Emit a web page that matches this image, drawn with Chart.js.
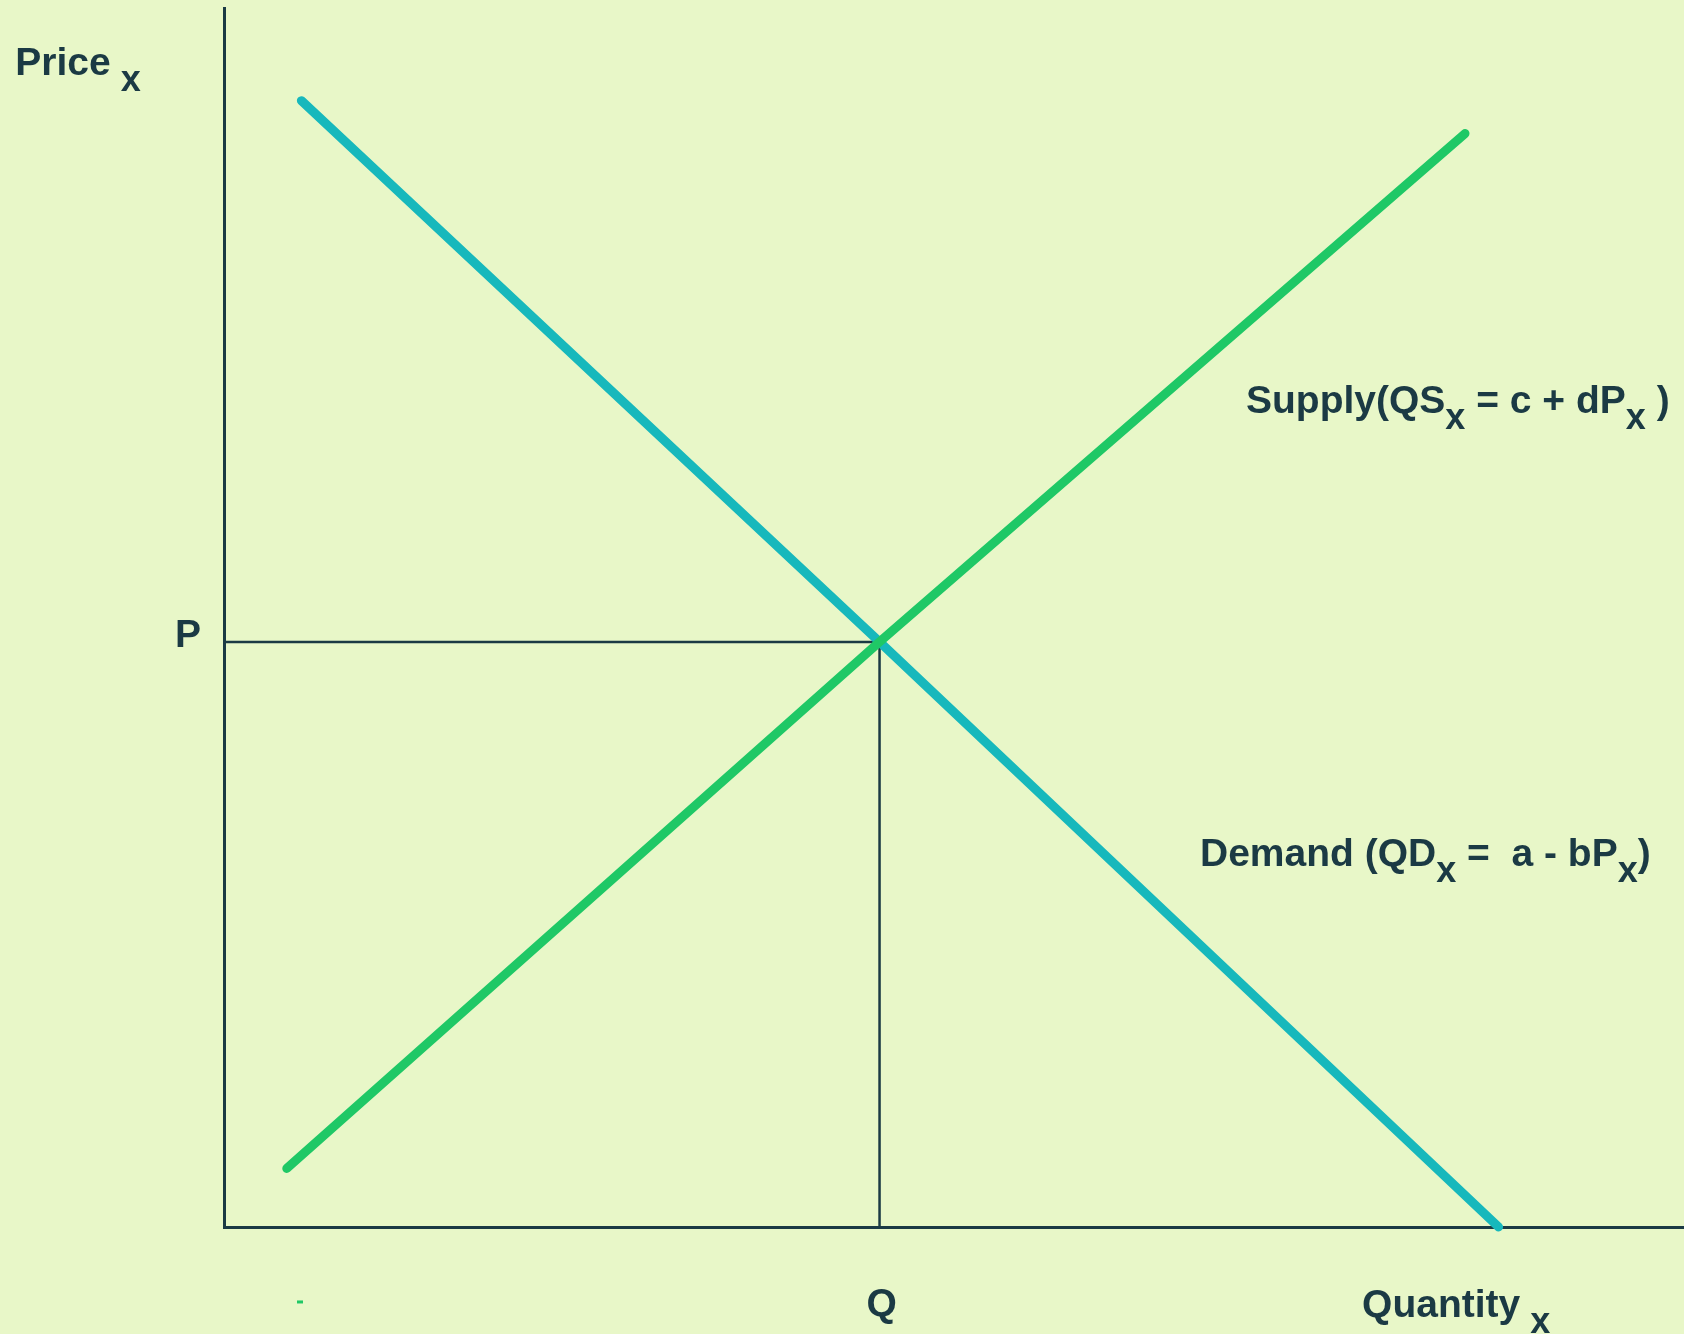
<!DOCTYPE html>
<html>
<head>
<meta charset="utf-8">
<script src="https://cdn.jsdelivr.net/npm/chart.js@4.4.0/dist/chart.umd.min.js"></script>
<style>
  html, body { margin: 0; padding: 0; background: #e8f7c8; }
  #wrap { width: 1684px; height: 1334px; position: relative; }
</style>
</head>
<body>
<div id="wrap"><canvas id="chart"></canvas></div>
<script>
"use strict";

// 需要曲線（数量, 価格）
const demandQty = [5.3, 44.9, 87.3];
const demandPrice = [92.4, 48.0, 0];
// 供給曲線（数量, 価格）
const supplyQty = [4.3, 44.9, 85.0];
const supplyPrice = [4.8, 48.0, 89.7];
// 均衡点
const eqQty = 44.9;
const eqPrice = 48.0;

const TEXT_COLOR = "#1b3a44";
const DEMAND_COLOR = "#17b8bc";
const SUPPLY_COLOR = "#1fc866";
const MAIN_FONT = "bold 39px 'Liberation Sans', Arial, sans-serif";
const SUB_FONT = "bold 36px 'Liberation Sans', Arial, sans-serif";

function toPoints(xs, ys) {
  return xs.map((x, i) => ({ x: x, y: ys[i] }));
}

// ラベル（パーツ: [文字, 下付きなら1]）
const textLabels = [
  { x: -14.3, y: 94.5, parts: [["Price", 0], [" x", 1]] },
  { x: 70.0, y: 66.8, parts: [["Supply(QS", 0], ["x", 1], [" = c + dP", 0], ["x", 1], [" )", 0]] },
  { x: 66.85, y: 29.6, parts: [["Demand (QD", 0], ["x", 1], [" =  a - bP", 0], ["x", 1], [")", 0]] },
  { x: -3.36, y: 47.6, parts: [["P", 0]] },
  { x: 44.0, y: -7.3, parts: [["Q", 0]] },
  { x: 77.95, y: -7.4, parts: [["Quantity", 0], [" x", 1]] }
];

const labelPlugin = {
  id: "labels",
  afterDraw(chart) {
    const ctx = chart.ctx;
    const xs = chart.scales.x;
    const ys = chart.scales.y;
    ctx.save();
    ctx.fillStyle = TEXT_COLOR;
    ctx.textBaseline = "alphabetic";
    ctx.textAlign = "left";
    for (const lb of textLabels) {
      let px = xs.getPixelForValue(lb.x);
      const py = ys.getPixelForValue(lb.y);
      for (const [txt, sub] of lb.parts) {
        ctx.font = sub ? SUB_FONT : MAIN_FONT;
        ctx.fillText(txt, px, py + (sub ? 16 : 0));
        px += ctx.measureText(txt).width;
      }
    }
    // 小さな緑のしるし
    ctx.fillStyle = SUPPLY_COLOR;
    ctx.fillRect(xs.getPixelForValue(5.0), ys.getPixelForValue(-6.15) - 1.5, 6, 3);
    ctx.restore();
  }
};

new Chart(document.getElementById("chart"), {
  type: "scatter",
  data: {
    datasets: [
      {
        label: "guide",
        data: [{ x: 0, y: eqPrice }, { x: eqQty, y: eqPrice }, { x: eqQty, y: 0 }],
        showLine: true,
        borderColor: TEXT_COLOR,
        borderWidth: 2.5,
        pointRadius: 0,
        order: 3
      },
      {
        label: "Demand",
        data: toPoints(demandQty, demandPrice),
        showLine: true,
        borderColor: DEMAND_COLOR,
        borderWidth: 9,
        borderCapStyle: "round",
        borderJoinStyle: "round",
        pointRadius: 0,
        order: 2
      },
      {
        label: "Supply",
        data: toPoints(supplyQty, supplyPrice),
        showLine: true,
        borderColor: SUPPLY_COLOR,
        borderWidth: 9,
        borderCapStyle: "round",
        borderJoinStyle: "round",
        pointRadius: 0,
        order: 1
      }
    ]
  },
  options: {
    responsive: true,
    maintainAspectRatio: false,
    animation: false,
    clip: false,
    layout: { padding: { left: 224, right: 0, top: 8, bottom: 107 } },
    plugins: {
      legend: { display: false },
      tooltip: { enabled: false }
    },
    scales: {
      x: {
        type: "linear",
        min: 0,
        max: 100,
        grid: { display: false, drawTicks: false },
        ticks: { display: false },
        border: { display: true, color: TEXT_COLOR, width: 3 }
      },
      y: {
        type: "linear",
        min: 0,
        max: 100,
        grid: { display: false, drawTicks: false },
        ticks: { display: false },
        border: { display: true, color: TEXT_COLOR, width: 3 }
      }
    }
  },
  plugins: [labelPlugin]
});
</script>
</body>
</html>
